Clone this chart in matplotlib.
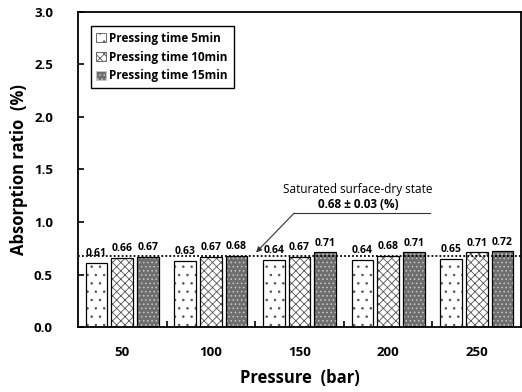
import numpy as np
import matplotlib.pyplot as plt

plt.rcParams['font.family'] = ['Open Sans', 'DejaVu Sans']
plt.rcParams['hatch.linewidth'] = 0.6

pressures = ["50", "100", "150", "200", "250"]
series_names = ["Pressing time 5min", "Pressing time 10min", "Pressing time 15min"]
t5 = [0.61, 0.63, 0.64, 0.64, 0.65]
t10 = [0.66, 0.67, 0.67, 0.68, 0.71]
t15 = [0.67, 0.68, 0.71, 0.71, 0.72]
ssd_value = 0.68

fig = plt.figure(figsize=(5.22, 3.92), dpi=100)
ax = fig.add_axes([78/522, 1 - 327/392, 443/522, 315/392])

x = np.arange(len(pressures))
width = 0.245
step = 0.29

styles = [
    dict(facecolor="white", hatchcol="#555555", hatch=".."),
    dict(facecolor="white", hatchcol="#555555", hatch="xxxx"),
    dict(facecolor="#6e6e6e", hatchcol="#c8c8c8", hatch="...."),
]

handles = []
for i, (vals, st) in enumerate(zip([t5, t10, t15], styles)):
    pos = x + (i - 1) * step
    # hatch layer
    ax.bar(pos, vals, width, color=st["facecolor"], edgecolor=st["hatchcol"],
           hatch=st["hatch"], linewidth=0, zorder=2)
    # outline
    ax.bar(pos, vals, width, fill=False, edgecolor="black", linewidth=0.9, zorder=3)
    h = plt.Rectangle((0, 0), 1, 1, facecolor=st["facecolor"], edgecolor=st["hatchcol"],
                      hatch=st["hatch"], linewidth=0.6)
    handles.append(h)
    for p, v in zip(pos, vals):
        ax.text(p, v + 0.035, f"{v:.2f}", ha="center", va="bottom",
                fontsize=7.5, fontweight="bold", zorder=4)

# saturated surface-dry line
ax.axhline(ssd_value, color="black", linestyle=(0, (1, 1.2)), linewidth=1.3, zorder=5)

ax.annotate("", xy=(1.51, 0.71), xytext=(1.94, 1.085),
            arrowprops=dict(arrowstyle="-|>", color="#333333", lw=0.8,
                            mutation_scale=8, shrinkA=0, shrinkB=0))
ax.plot([1.94, 3.47], [1.085, 1.085], color="#333333", lw=0.8, zorder=5)
ax.text(2.66, 1.31, "Saturated surface-dry state", ha="center", va="center", fontsize=8.5)
ax.text(2.66, 1.17, "0.68 \u00b1 0.03 (%)", ha="center", va="center",
        fontsize=8.5, fontweight="bold")

ax.set_xlim(-0.5, len(pressures) - 0.5)
ax.set_ylim(0, 3.0)
ax.set_yticks(np.arange(0, 3.01, 0.5))
ax.set_yticklabels([f"{v:.1f}" for v in np.arange(0, 3.01, 0.5)])
ax.set_xticks(x)
ax.set_xticklabels(pressures)
ax.set_xticks(np.arange(0.5, len(pressures) - 0.5, 1), minor=True)
ax.tick_params(axis="x", which="major", length=0, pad=14)
ax.tick_params(axis="x", which="minor", direction="in", length=4, width=1.2)
ax.tick_params(axis="y", direction="in", length=4, width=1.2, pad=18)
for lab in ax.get_xticklabels() + ax.get_yticklabels():
    lab.set_fontweight("bold")
    lab.set_fontsize(9.5)
for sp in ax.spines.values():
    sp.set_linewidth(1.3)

ax.set_xlabel("Pressure  (bar)", fontsize=12, fontweight="bold", labelpad=7)
ax.set_ylabel("Absorption ratio  (%)", fontsize=12, fontweight="bold", labelpad=4)

leg = ax.legend(handles, series_names, loc="upper left", bbox_to_anchor=(0.015, 0.975),
                prop=dict(weight="bold", size=8.5), handlelength=0.8, handleheight=0.8,
                handletextpad=0.3, labelspacing=0.5, borderpad=0.5,
                fancybox=False, edgecolor="black", framealpha=1)
leg.get_frame().set_linewidth(1.0)

fig.savefig("out.png", dpi=100)
